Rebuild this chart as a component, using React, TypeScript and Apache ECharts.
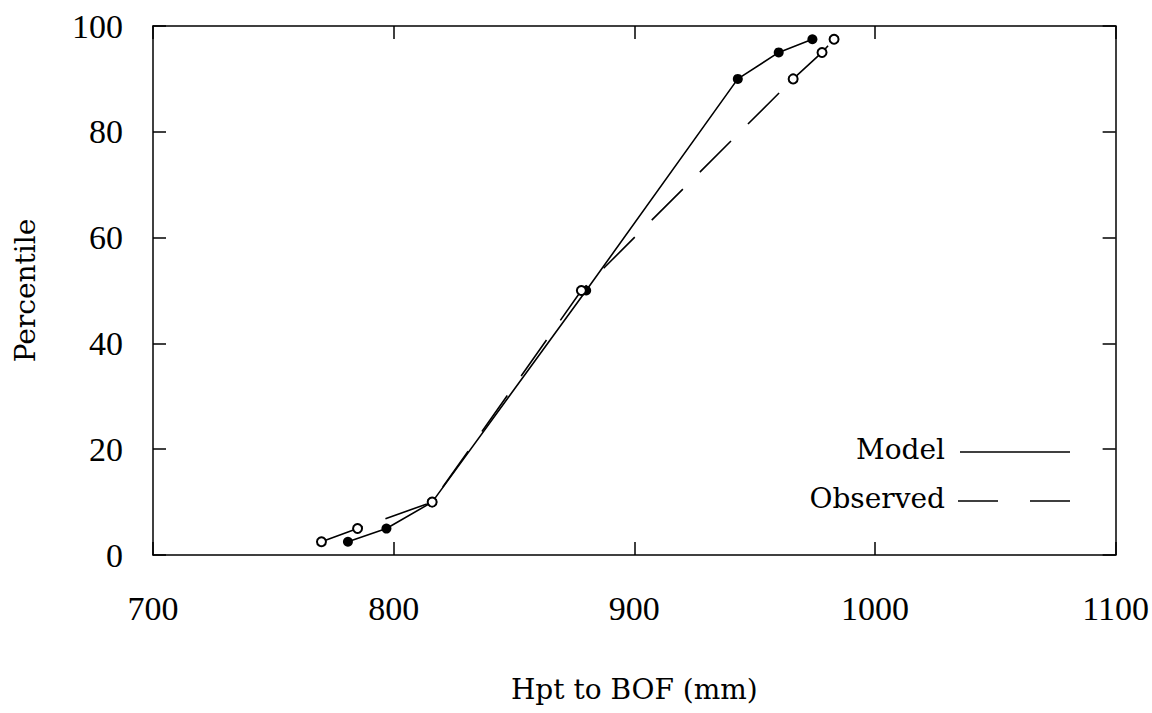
import React, { useEffect, useRef } from "react";
import * as echarts from "echarts";

const percentiles = [2.5, 5, 10, 50, 90, 95, 97.5];
const modelHpt = [781, 797, 816, 880, 943, 960, 974];
const observedHpt = [770, 785, 816, 878, 966, 978, 983];
const seriesNames = ["Model", "Observed"];
const xTitle = "Hpt to BOF (mm)";
const yTitle = "Percentile";

const numFont = "'Liberation Serif', serif";
const txtFont = "'DejaVu Serif', serif";

export default function App() {
  const ref = useRef<HTMLDivElement>(null);
  useEffect(() => {
    if (!ref.current) return;
    const chart = echarts.init(ref.current, null, { renderer: "svg" });
    const axisLine = { show: true, onZero: false, lineStyle: { color: "#000", width: 1.5 } };
    const axisTick = { show: true, inside: true, length: 13, lineStyle: { color: "#000", width: 1.5 } };
    const fmt = (v: number) => String(v);
    const modelData = modelHpt.map((x, i) => [x, percentiles[i]]);
    const obsData = observedHpt.map((x, i) => [x, percentiles[i]]);
    chart.setOption({
      animation: false,
      backgroundColor: "#fff",
      grid: { left: 153, right: 35, top: 26, bottom: 158, containLabel: false },
      xAxis: [
        {
          type: "value",
          min: 700,
          max: 1100,
          interval: 100,
          position: "bottom",
          axisLine,
          axisTick,
          splitLine: { show: false },
          axisLabel: { fontFamily: numFont, fontSize: 34, color: "#000", margin: 36, formatter: fmt },
          name: xTitle,
          nameLocation: "middle",
          nameGap: 120,
          nameTextStyle: { fontFamily: txtFont, fontSize: 28, color: "#000" },
        },
        {
          type: "value",
          min: 700,
          max: 1100,
          interval: 100,
          position: "top",
          axisLine,
          axisTick,
          splitLine: { show: false },
          axisLabel: { show: false },
        },
      ],
      yAxis: [
        {
          type: "value",
          min: 0,
          max: 100,
          interval: 20,
          position: "left",
          axisLine,
          axisTick,
          splitLine: { show: false },
          axisLabel: { fontFamily: numFont, fontSize: 34, color: "#000", margin: 30, formatter: fmt },
          name: yTitle,
          nameLocation: "middle",
          nameGap: 114,
          nameTextStyle: { fontFamily: txtFont, fontSize: 28, color: "#000" },
        },
        {
          type: "value",
          min: 0,
          max: 100,
          interval: 20,
          position: "right",
          axisLine,
          axisTick,
          splitLine: { show: false },
          axisLabel: { show: false },
        },
      ],
      series: [
        {
          name: seriesNames[0],
          type: "line",
          data: modelData,
          symbol: "circle",
          symbolSize: 10,
          itemStyle: { color: "#000" },
          lineStyle: { color: "#000", width: 1.6, type: "solid" },
        },
        {
          name: seriesNames[1],
          type: "line",
          data: obsData,
          symbol: "emptyCircle",
          symbolSize: 9,
          itemStyle: { color: "#000", borderColor: "#000", borderWidth: 1.8 },
          lineStyle: { color: "#000", width: 1.6, type: [44, 24] },
        },
      ],
      graphic: [
        {
          type: "text",
          right: 1152 - 945,
          top: 435,
          style: { text: seriesNames[0], font: `28px ${txtFont}`, fill: "#000" },
        },
        {
          type: "line",
          shape: { x1: 960, y1: 452, x2: 1070, y2: 452 },
          style: { stroke: "#000", lineWidth: 1.5 },
        },
        {
          type: "text",
          right: 1152 - 945,
          top: 484,
          style: { text: seriesNames[1], font: `28px ${txtFont}`, fill: "#000" },
        },
        {
          type: "line",
          shape: { x1: 958, y1: 501, x2: 1070, y2: 501 },
          style: { stroke: "#000", lineWidth: 1.5, lineDash: [40, 32] },
        },
      ],
    });
    return () => chart.dispose();
  }, []);
  return (
    <div
      ref={ref}
      style={{ position: "fixed", left: 0, top: 0, width: 1152, height: 713, background: "#fff" }}
    />
  );
}
